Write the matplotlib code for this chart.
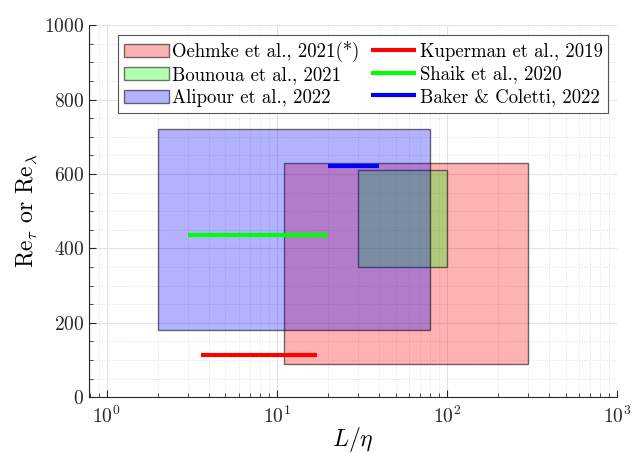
import matplotlib
matplotlib.use("Agg")
import matplotlib.pyplot as plt
from matplotlib.patches import Rectangle
from matplotlib.ticker import MultipleLocator, LogLocator, NullFormatter

plt.rcParams["font.family"] = "serif"
plt.rcParams["font.serif"] = ["cmr10"]
plt.rcParams["mathtext.fontset"] = "cm"
plt.rcParams["axes.formatter.use_mathtext"] = True
plt.rcParams["axes.unicode_minus"] = False

# parameter ranges covered by each study: (L/eta min, max), (Re min, max)
box_labels = ["Oehmke et al., 2021(*)", "Bounoua et al., 2021", "Alipour et al., 2022"]
box_x = [(11, 300), (30, 100), (2, 80)]
box_y = [(90, 630), (350, 610), (180, 720)]
box_colors = ["#ff0000", "#00ff00", "#0000ff"]

line_labels = ["Kuperman et al., 2019", "Shaik et al., 2020", "Baker & Coletti, 2022"]
line_x = [(3.6, 17.3), (3.0, 20.0), (20.0, 40.0)]
line_y = [114, 435, 622]
line_colors = ["#ff0000", "#00ff00", "#0000ff"]

fig = plt.figure(figsize=(6.32, 4.57), dpi=100)
ax = fig.add_axes([0.141, 0.131, 0.835, 0.814])

handles = []
for lab, (x0, x1), (y0, y1), c in zip(box_labels, box_x, box_y, box_colors):
    r = Rectangle((x0, y0), x1 - x0, y1 - y0,
                  facecolor=(*matplotlib.colors.to_rgb(c), 0.3),
                  edgecolor=(0, 0, 0, 0.55), lw=1.0, label=lab, zorder=2)
    ax.add_patch(r)
    handles.append(r)

for lab, (x0, x1), y, c in zip(line_labels, line_x, line_y, line_colors):
    h, = ax.plot([x0, x1], [y, y], color=c, lw=3, solid_capstyle="butt",
                 label=lab, zorder=3)
    handles.append(h)

ax.set_xscale("log")
ax.set_xlim(0.79, 1000)
ax.set_ylim(0, 1000)
ax.yaxis.set_major_locator(MultipleLocator(200))
ax.yaxis.set_minor_locator(MultipleLocator(50))
ax.xaxis.set_major_locator(LogLocator(base=10, numticks=10))
ax.xaxis.set_minor_locator(LogLocator(base=10, subs=range(2, 10), numticks=20))
ax.xaxis.set_minor_formatter(NullFormatter())

ax.grid(True, which="major", color="#e3e3e3", lw=0.8, zorder=0)
ax.grid(True, which="minor", color="#d6d6d6", lw=0.6, ls=(0, (1, 2)), zorder=0)
ax.set_axisbelow(True)

for s in ["top", "right"]:
    ax.spines[s].set_visible(False)
for s in ["left", "bottom"]:
    ax.spines[s].set_color("#262626")
    ax.spines[s].set_linewidth(0.8)
ax.tick_params(which="both", direction="in", colors="#262626", labelsize=14,
               top=False, right=False)
ax.tick_params(which="major", length=5)
ax.tick_params(which="minor", length=3)
ax.tick_params(axis="x", pad=6)

ax.set_xlabel(r"$L/\eta$", fontsize=17, labelpad=-1)
ax.set_ylabel(r"$\mathrm{Re}_\tau$ or $\mathrm{Re}_\lambda$", fontsize=17)

# boxes fill the first column, lines the second
leg = ax.legend(handles, [h.get_label() for h in handles],
                ncol=2, loc="upper left", bbox_to_anchor=(118 / 632, 1 - 35 / 457),
                bbox_transform=fig.transFigure, borderaxespad=0, fontsize=13.5,
                frameon=True, fancybox=False, framealpha=1, edgecolor="#555555",
                handlelength=2.4, handletextpad=0.2, columnspacing=0.6,
                labelspacing=0.25, borderpad=0.3)
leg.get_frame().set_linewidth(0.8)
leg.set_zorder(5)

fig.savefig("out.png", dpi=100)
